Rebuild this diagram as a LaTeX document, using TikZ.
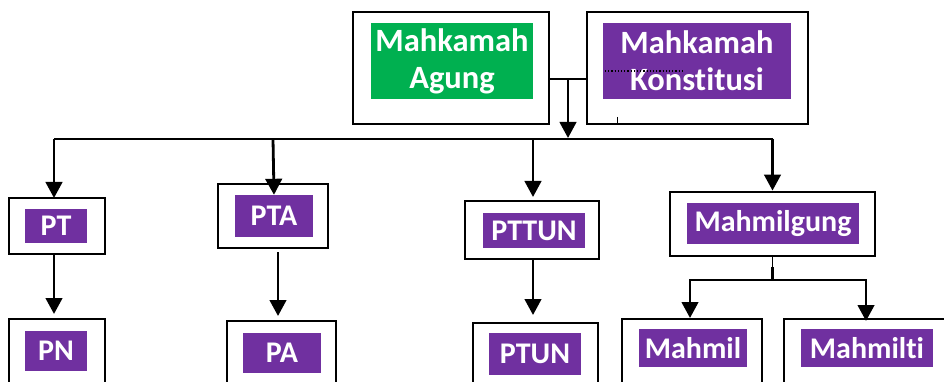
\documentclass[tikz,border=0pt]{standalone}
\usepackage{fontspec}
\setmainfont[RawFeature=-liga]{Carlito}
\usetikzlibrary{arrows.meta,calc}
\definecolor{mgreen}{HTML}{00B050}
\definecolor{mpurple}{HTML}{7030A0}
\tikzset{
  outer/.style={draw=black, line width=2.8pt, fill=white, inner sep=0pt},
  innerbox/.style={fill=#1, text=white, inner sep=0pt, align=center,
    font=\fontsize{30}{34}\selectfont\bfseries},
  innerbox/.default=mpurple,
  arr/.style={line width=2.8pt, -{Triangle[width=16.5pt,length=16pt]}},
  conn/.style={line width=2.8pt},
}
\begin{document}
\begin{tikzpicture}[x=1pt,y=-1pt]
\useasboundingbox (0,0) rectangle (944,382);
\clip (0,0) rectangle (944,382);
% top boxes
\node[outer, minimum width=196, minimum height=112] (MA) at (451,68) {};
\node[innerbox=mgreen, minimum width=162, minimum height=76,
  font=\fontsize{32.5}{37}\selectfont\bfseries] (MAt) at (452,61) {Mahkamah\\Agung};
\node[outer, minimum width=221, minimum height=112] (MK) at (697.5,68) {};
\node[innerbox, minimum width=188, minimum height=76,
  font=\fontsize{32.5}{37}\selectfont\bfseries] (MKt) at (697,61) {Mahkamah\\Konstitusi};
\draw[dotted, line width=1.2pt] (605,71) -- (683,71);
\draw[line width=1pt] (617,117) -- (MK.south -| 617,0);
% second level
\node[outer, minimum width=96, minimum height=56] (PT) at (57,226) {};
\node[innerbox, minimum width=62, minimum height=34] (PTt) at (56,226) {PT};
\node[outer, minimum width=110, minimum height=64] (PTA) at (273,216) {};
\node[innerbox, minimum width=78, minimum height=42] (PTAt) at (274,216) {PTA};
\node[outer, minimum width=134, minimum height=58] (PTTUN) at (532,230) {};
\node[innerbox, minimum width=102, minimum height=35] (PTTUNt) at (534,230.5) {PTTUN};
\node[outer, minimum width=205, minimum height=64] (MG) at (772.5,224) {};
\node[innerbox, minimum width=172, minimum height=41] (MGt) at (773,223.5) {Mahmilgung};
% third level (cut off at bottom)
\node[outer, minimum width=96, minimum height=100] (PN) at (57,369) {};
\node[innerbox, minimum width=62, minimum height=40] (PNt) at (56,351) {PN};
\node[outer, minimum width=109, minimum height=100] (PA) at (281.5,371) {};
\node[innerbox, minimum width=78, minimum height=40] (PAt) at (282,353) {PA};
\node[outer, minimum width=125, minimum height=100] (PTUN) at (535.5,373) {};
\node[innerbox, minimum width=92, minimum height=42] (PTUNt) at (535,354) {PTUN};
\node[outer, minimum width=140, minimum height=100] (MIL) at (692,369) {};
\node[innerbox, minimum width=108, minimum height=38] (MILt) at (693,348) {Mahmil};
\node[outer, minimum width=162, minimum height=100] (MILT) at (865,369) {};
\node[innerbox, minimum width=132, minimum height=38] (MILTt) at (867,348) {Mahmilti};
% connectors top
\coordinate (J) at (568,79);
\coordinate (B) at (568,139);
\draw[conn] (MA.east |- J) -- (MK.west |- J);
\draw[arr] (J) -- ([yshift=1pt]B);
\draw[conn] (54,139) -- (MG.north |- B);
\draw[arr] (54,139) -- (54,198);
\draw[arr] (273,139) -- (PTAt.north);
\draw[arr] (533,139) -- (533,197);
\draw[arr] (MG.north |- B) -- (MG.north);
% connectors down
\draw[arr] (54,254) -- (54,314);
\draw[arr] (278,252) -- (278,316);
\draw[arr] (533,259) -- (533,315);
\draw[line width=1pt] (MG.south) -- (772.5,268);
\draw[conn] (772.5,267) -- (772.5,280);
\draw[arr] (772.5,280) -| (690,318);
\draw[arr] (772.5,280) -| (866,321);
\end{tikzpicture}
\end{document}
